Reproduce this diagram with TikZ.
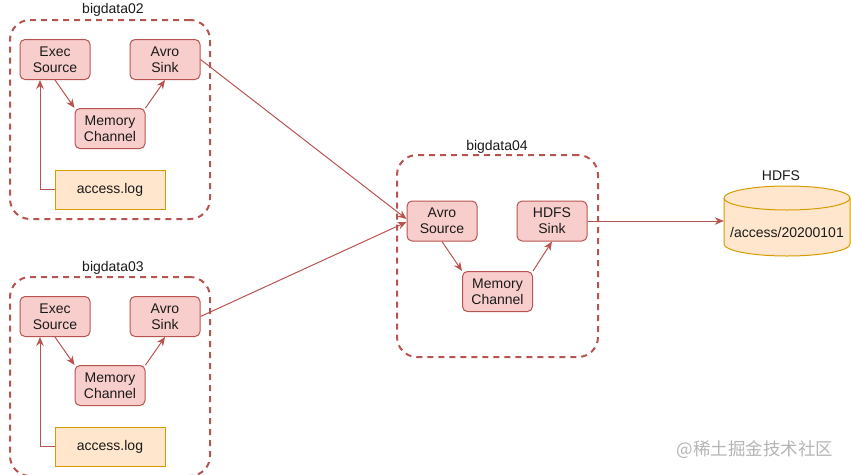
\documentclass[tikz,border=0pt]{standalone}
\usepackage{fontspec}
\setmainfont{Liberation Sans}
\newfontfamily\cjkfont{Noto Sans CJK SC}
\usetikzlibrary{arrows.meta}
\definecolor{redfill}{HTML}{F8CECC}
\definecolor{redline}{HTML}{B85450}
\definecolor{orfill}{HTML}{FFE6CC}
\definecolor{orline}{HTML}{D79B00}
\definecolor{txt}{HTML}{1A1A1A}
\definecolor{wm}{HTML}{B4B4B4}
\begin{document}
\begin{tikzpicture}[x=1pt,y=-1pt,
  every node/.style={text=txt,font=\fontsize{14}{16}\selectfont},
  comp/.style={rectangle,rounded corners=5pt,fill=redfill,draw=redline,line width=1pt,
    minimum width=70pt,minimum height=40pt,align=center,inner sep=0pt,text depth=0pt},
  logbox/.style={rectangle,fill=orfill,draw=orline,line width=1pt,
    minimum width=110pt,minimum height=39pt,inner sep=0pt},
  group/.style={rectangle,rounded corners=20pt,draw=redline,line width=2pt,
    dash pattern=on 6pt off 5pt,inner sep=0pt},
  conn/.style={draw=redline,line width=1pt,-{Stealth[length=9pt,width=7.5pt]}},
  lbl/.style={inner sep=0pt}]
\useasboundingbox (0,0) rectangle (851,474);

% groups
\node[group,minimum width=200pt,minimum height=199pt] (g02) at (110,119.5) {};
\node[group,minimum width=200pt,minimum height=199pt] (g03) at (110,376.5) {};
\node[group,minimum width=201pt,minimum height=202pt] (g04) at (497.5,256) {};
\node[lbl] (l02) at (113,10) {bigdata02};
\node[lbl] (l03) at (113,268) {bigdata03};
\node[lbl] (l04) at (497,147) {bigdata04};

% bigdata02
\node[comp] (exec02) at (55,59.5) {Exec\\Source};
\node[comp] (sink02) at (165,59.5) {Avro\\Sink};
\node[comp] (mem02) at (110,128.5) {Memory\\Channel};
\node[logbox] (log02) at (110,189.5) {access.log};

% bigdata03
\node[comp] (exec03) at (55,316.5) {Exec\\Source};
\node[comp] (sink03) at (165,316.5) {Avro\\Sink};
\node[comp] (mem03) at (110,385.5) {Memory\\Channel};
\node[logbox] (log03) at (110,446.5) {access.log};

% bigdata04
\node[comp] (src04) at (442,221) {Avro\\Source};
\node[comp] (hsink) at (552,221) {HDFS\\Sink};
\node[comp] (mem04) at (497.5,291.5) {Memory\\Channel};

% HDFS cylinder
\node[inner sep=0pt,minimum width=126pt,minimum height=70pt] (hdfs) at (787,221) {};
\filldraw[fill=orfill,draw=orline,line width=1pt]
  (724,198) -- (724,244) arc[start angle=180,end angle=360,x radius=63pt,y radius=12pt]
  -- (850,198) arc[start angle=0,end angle=180,x radius=63pt,y radius=12pt] -- cycle;
\draw[orline,line width=1pt] (724,198) arc[start angle=180,end angle=360,x radius=63pt,y radius=12pt];
\node[lbl] (hdfstext) at (787,232) {/access/20200101};
\node[lbl] (hdfslbl) at (781,176) {HDFS};

% connectors bigdata02
\draw[conn] (log02.west) -| ([xshift=-15pt]exec02.south);
\draw[conn] (exec02.south) -- (mem02.north west);
\draw[conn] (mem02.north east) -- (sink02.south);
% connectors bigdata03
\draw[conn] (log03.west) -| ([xshift=-15pt]exec03.south);
\draw[conn] (exec03.south) -- (mem03.north west);
\draw[conn] (mem03.north east) -- (sink03.south);
% connectors bigdata04
\draw[conn] (src04.south) -- (mem04.north west);
\draw[conn] (mem04.north east) -- (hsink.south);
% cross-group
\draw[conn] (sink02.east) -- ([yshift=2pt]src04.west);
\draw[conn] (sink03.east) -- ([yshift=-1pt]src04.west);
\draw[conn] (hsink.east) -- (hdfs.west);

% watermark
\node[lbl,text=wm,font=\cjkfont\fontsize{17.5}{19}\selectfont] (wmark) at (755,450) {@稀土掘金技术社区};
\end{tikzpicture}
\end{document}
